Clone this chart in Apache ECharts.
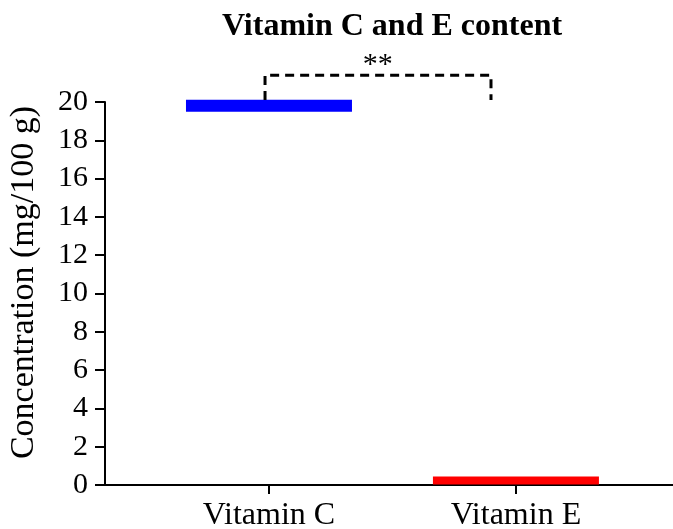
<!DOCTYPE html>
<html>
<head>
<meta charset="utf-8">
<script src="https://cdn.jsdelivr.net/npm/echarts@6/dist/echarts.min.js"></script>
<style>html,body{margin:0;padding:0;background:#fff;}#c{width:673px;height:529px;}</style>
</head>
<body>
<div id="c"></div>
<script>
// Data
var categories = ['Vitamin C', 'Vitamin E'];
var categoryPos = [1, 2];
var meanValues = [19.8, 0.23];
var seriesColors = ['#0000ff', '#ff0000'];
var yTicks = [0, 2, 4, 6, 8, 10, 12, 14, 16, 18, 20];
// significance bracket (x in category units, y in data units)
var bracketX = [0.984, 0.984, 1.899, 1.899];
var bracketY = [20.1, 21.4, 21.4, 20.1];
var sigLabel = '**';
var sigPos = [1.44, 21.9];

var FONT = '"Liberation Serif", "Times New Roman", serif';
var barSizes = [[166, 12], [166, 8]];
var chart = echarts.init(document.getElementById('c'));

var meanSeries = categories.map(function (name, i) {
  return {
    type: 'scatter',
    name: name,
    data: [[categoryPos[i], meanValues[i]]],
    symbol: 'rect',
    symbolSize: barSizes[i],
    itemStyle: { color: seriesColors[i], opacity: 1 },
    emphasis: { disabled: true },
    z: 3
  };
});

var option = {
  animation: false,
  backgroundColor: '#fff',
  title: {
    text: 'Vitamin C and E content',
    left: 387,
    top: 6,
    textAlign: 'center',
    textStyle: { fontFamily: FONT, fontWeight: 'bold', fontSize: 32, color: '#000' }
  },
  grid: { left: 105, right: 0, top: 102, bottom: 44, containLabel: false, outerBoundsMode: 'none' },
  xAxis: {
    type: 'value',
    min: 0.336,
    max: 2.636,
    splitLine: { show: false },
    axisLine: { show: true, lineStyle: { color: '#000', width: 2 } },
    axisTick: { show: true, customValues: categoryPos, length: 9, lineStyle: { color: '#000', width: 2 } },
    axisLabel: {
      customValues: categoryPos,
      formatter: function (v) { return categories[categoryPos.indexOf(Math.round(v))] || ''; },
      fontFamily: FONT, fontSize: 32, color: '#000', margin: 15
    }
  },
  yAxis: {
    type: 'value',
    min: 0,
    max: 20,
    interval: 2,
    name: 'Concentration (mg/100 g)',
    nameLocation: 'middle',
    nameGap: 64,
    nameRotate: 90,
    nameTextStyle: { fontFamily: FONT, fontSize: 34, color: '#000', padding: [0, 0, 0, 22] },
    splitLine: { show: false },
    axisLine: { show: true, lineStyle: { color: '#000', width: 2 } },
    axisTick: { show: true, length: 10, lineStyle: { color: '#000', width: 2 } },
    axisLabel: {
      customValues: yTicks,
      fontFamily: FONT, fontSize: 30, color: '#000', margin: 17
    }
  },
  series: meanSeries.concat([
    {
      type: 'line',
      data: bracketX.map(function (x, i) { return [x, bracketY[i]]; }),
      symbol: 'none',
      clip: false,
      lineStyle: { color: '#000', width: 3, type: [9, 6] },
      emphasis: { disabled: true },
      z: 4
    },
    {
      type: 'scatter',
      data: [sigPos],
      symbolSize: 0,
      clip: false,
      itemStyle: { opacity: 1 },
      emphasis: { disabled: true },
      label: {
        show: true,
        position: 'inside',
        formatter: sigLabel,
        fontFamily: FONT, fontSize: 30, color: '#000'
      }
    }
  ])
};
chart.setOption(option);
</script>
</body>
</html>
